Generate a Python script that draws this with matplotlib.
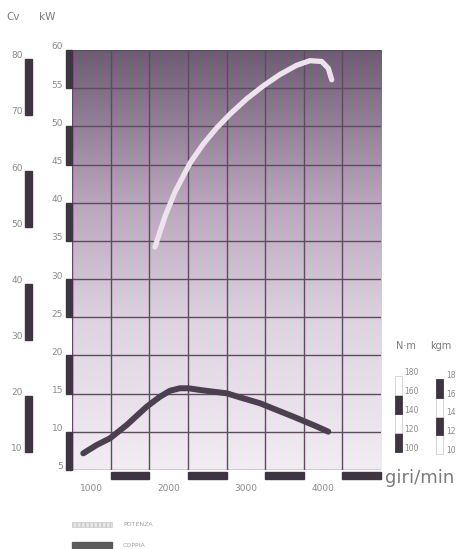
import numpy as np
import matplotlib
matplotlib.use("Agg")
import matplotlib.pyplot as plt
import matplotlib.transforms as mtransforms
from matplotlib.patches import Rectangle

# curva di potenza (kW) in funzione dei giri/min
power_rpm = [1824, 1954, 2083, 2278, 2450, 2623, 2795, 3011, 3226, 3443, 3659, 3831, 3982, 4068, 4112]
power_kw = [34.2, 38.2, 41.4, 45.2, 47.7, 49.8, 51.6, 53.6, 55.3, 56.8, 58.0, 58.6, 58.5, 57.6, 56.1]

# curva di coppia (N·m)
torque_rpm = [896, 1070, 1242, 1458, 1717, 1889, 2019, 2148, 2256, 2407, 2579, 2753,
              2967, 3184, 3400, 3615, 3874, 4068]
torque_nm = [98.6, 107.4, 114.4, 128.4, 147.7, 158.2, 164.5, 167.1, 167.1, 165.3, 163.5, 161.8,
             156.5, 151.3, 144.2, 137.2, 128.4, 121.4]

rpm_ticks = [1000, 2000, 3000, 4000]
kw_ticks = [5, 10, 15, 20, 25, 30, 35, 40, 45, 50, 55, 60]
cv_ticks = [10, 20, 30, 40, 50, 60, 70, 80]
nm_ticks = [100, 120, 140, 160, 180]
kgm_ticks = [10, 12, 14, 16, 18]

CV_TO_KW = 0.7355
KGM_TO_NM = 9.80665
TXT = "#8a8a8a"
DARK = "#3f3542"

fig = plt.figure(figsize=(4.65, 5.49), dpi=100)
ax = fig.add_axes([72 / 465, 79 / 549, 309 / 465, 420 / 549])
ax.set_xlim(750, 4750)
ax.set_ylim(5, 60)
for s in ax.spines.values():
    s.set_visible(False)
ax.set_xticks([])
ax.set_yticks([])

# sfondo sfumato (scuro in alto, chiaro in basso) con righe verticali della stampa
h, w = 420, 309
yy = np.linspace(0, 1, h)[:, None]
xx = np.arange(w)[None, :]
stops = [0.0, 0.35, 0.65, 1.0]
cols = np.array([[0.43, 0.36, 0.45],
                 [0.72, 0.64, 0.73],
                 [0.87, 0.83, 0.88],
                 [0.95, 0.925, 0.955]])
base = np.stack([np.interp(yy[:, 0], stops, cols[:, i]) for i in range(3)], axis=1)
img = np.repeat(base[:, None, :], w, axis=1)
amp = (0.06 - 0.035 * yy)[:, :, None]
stripe = np.sin(2 * np.pi * xx / 10.0)[:, :, None]
tint = np.array([1.0, -0.7, 1.0])[None, None, :]
img = np.clip(img + amp * stripe * tint, 0, 1)
ax.imshow(img, extent=[750, 4750, 5, 60], aspect="auto", zorder=0, interpolation="bilinear")

grid_c = "#5b4c5e"
for r in np.arange(rpm_ticks[0] - 250, rpm_ticks[-1] + 750, 500):
    ax.axvline(r, color=grid_c, lw=1.0, zorder=1)
for k in kw_ticks:
    ax.axhline(k, color=grid_c, lw=1.0, zorder=1)

ax.plot(power_rpm, power_kw, color="#ece3ec", lw=3.8, solid_capstyle="round",
        solid_joinstyle="round", zorder=3)

ax2 = ax.twinx()
ax2.set_ylim(81.05, 523.2)
ax2.axis("off")
ax2.plot(torque_rpm, torque_nm, color="#4c3f50", lw=4.3, solid_capstyle="round",
         solid_joinstyle="round", zorder=3)

ty = mtransforms.blended_transform_factory(ax.transAxes, ax.transData)
ty2 = mtransforms.blended_transform_factory(ax.transAxes, ax2.transData)
tx = mtransforms.blended_transform_factory(ax.transData, ax.transAxes)

# scala kW
for k in kw_ticks[0:-1:2]:
    ax.add_patch(Rectangle((-0.019, k), 0.019, 5, transform=ty, color=DARK, clip_on=False))
for k in kw_ticks:
    ax.text(-0.029, k + 0.4, str(k), transform=ty, ha="right", va="center",
            fontsize=6.5, color=TXT)

# scala Cv
for c in cv_ticks[0::2]:
    ax.add_patch(Rectangle((-0.152, c * CV_TO_KW), 0.023, 10 * CV_TO_KW,
                           transform=ty, color=DARK, clip_on=False))
for c in cv_ticks:
    ax.text(-0.16, c * CV_TO_KW + 0.4, str(c), transform=ty, ha="right", va="center",
            fontsize=6.5, color=TXT)

ax.text(-0.191, 1.079, "Cv", transform=ax.transAxes, ha="center", va="center",
        fontsize=7.5, color="#7a7a7a")
ax.text(-0.081, 1.079, "kW", transform=ax.transAxes, ha="center", va="center",
        fontsize=7.5, color="#7a7a7a")

# scala giri/min
for r in rpm_ticks:
    ax.add_patch(Rectangle((r + 250, -0.021), 500, 0.017, transform=tx, color=DARK, clip_on=False))
    ax.text(r, -0.043, str(r), transform=tx, ha="center", va="center", fontsize=6.5, color=TXT)
ax.text(1.013, -0.019, "giri/min", transform=ax.transAxes, ha="left", va="center",
        fontsize=13, color="#7a7a7a")

# scala coppia N·m / kgm
for i in range(len(nm_ticks) - 1):
    lo = nm_ticks[i]
    dark = i % 2 == 0
    ax.add_patch(Rectangle((1.045, lo), 0.023, nm_ticks[i + 1] - lo, transform=ty2,
                           facecolor=DARK if dark else "white",
                           edgecolor=DARK if dark else "#d0d0d0", lw=0.6, clip_on=False))
for n in nm_ticks:
    ax.text(1.074, n + 4, str(n), transform=ty2, ha="left", va="center", fontsize=5.5, color=TXT)
for i in range(len(kgm_ticks) - 1):
    lo = kgm_ticks[i]
    dark = i % 2 == 1
    ax.add_patch(Rectangle((1.178, lo * KGM_TO_NM), 0.023, (kgm_ticks[i + 1] - lo) * KGM_TO_NM,
                           transform=ty2, facecolor=DARK if dark else "white",
                           edgecolor=DARK if dark else "#d0d0d0", lw=0.6, clip_on=False))
for g in kgm_ticks:
    ax.text(1.210, g * KGM_TO_NM + 4, str(g), transform=ty2, ha="left", va="center",
            fontsize=5.5, color=TXT)
ax.text(1.081, 212, "N·m", transform=ty2, ha="center", va="center", fontsize=7, color="#7a7a7a")
ax.text(1.194, 212, "kgm", transform=ty2, ha="center", va="center", fontsize=7, color="#7a7a7a")

# legenda
ax.add_patch(Rectangle((0.0, -0.136), 0.129, 0.012, transform=ax.transAxes,
                       facecolor="#e6e6e6", edgecolor="#c8c8c8", hatch="||||", lw=0.5,
                       clip_on=False))
ax.text(0.165, -0.130, "POTENZA", transform=ax.transAxes, ha="left", va="center",
        fontsize=4.5, color="#a0a0a0")
ax.add_patch(Rectangle((0.0, -0.186), 0.129, 0.015, transform=ax.transAxes,
                       color="#5a5a5a", clip_on=False))
ax.text(0.165, -0.179, "COPPIA", transform=ax.transAxes, ha="left", va="center",
        fontsize=4.5, color="#a0a0a0")

fig.savefig("out.png", dpi=100, facecolor="white")
